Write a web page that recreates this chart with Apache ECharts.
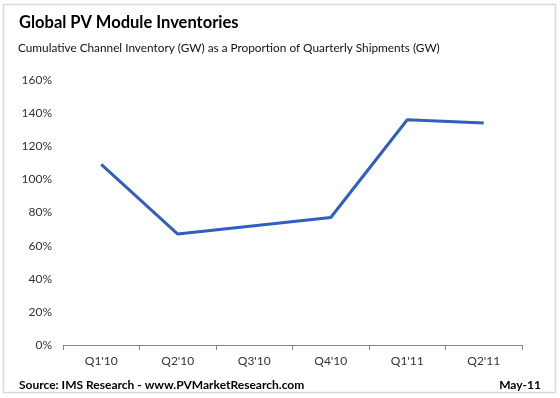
<!DOCTYPE html>
<html>
<head>
<meta charset="utf-8">
<script src="https://cdn.jsdelivr.net/npm/echarts@6/dist/echarts.min.js"></script>
<style>
  html, body { margin: 0; padding: 0; background: #fff; }
  #main { width: 560px; height: 398px; }
</style>
</head>
<body>
<div id="main"></div>
<script>
// quarters on the x axis
var quarters = ["Q1'10", "Q2'10", "Q3'10", "Q4'10", "Q1'11", "Q2'11"];
// channel inventory as % of quarterly shipments
var inventoryPct = [109, 67, 72, 77, 136, 134];

var font = "Lato, 'Open Sans', sans-serif";

var chart = echarts.init(document.getElementById("main"));
chart.setOption({
  animation: false,
  textStyle: { fontFamily: font },
  graphic: [
    {
      type: "rect",
      shape: { x: 3.5, y: 4.5, width: 552, height: 388 },
      style: { fill: "none", stroke: "#d3dae2", lineWidth: 1.5 },
      silent: true
    }
  ],
  title: [
    {
      text: "Global PV Module Inventories",
      left: 14, top: 9,
      textStyle: { fontFamily: font, fontSize: 16.5, fontWeight: "bold", color: "#000" }
    },
    {
      text: "Cumulative Channel Inventory (GW) as a Proportion of Quarterly Shipments (GW)",
      left: 13, top: 37,
      textStyle: { fontFamily: font, fontSize: 11.8, fontWeight: "normal", color: "#111" }
    },
    {
      text: "Source: IMS Research - www.PVMarketResearch.com",
      left: 14, top: 374,
      textStyle: { fontFamily: font, fontSize: 12, fontWeight: "bold", color: "#000" }
    },
    {
      text: "May-11",
      right: 14, top: 374,
      textStyle: { fontFamily: font, fontSize: 12, fontWeight: "bold", color: "#000" }
    }
  ],
  grid: { left: 63, right: 38, top: 80, bottom: 53 },
  xAxis: {
    type: "category",
    data: quarters,
    boundaryGap: true,
    axisLine: { lineStyle: { color: "#868686", width: 1 } },
    axisTick: { show: true, length: 5, lineStyle: { color: "#868686" } },
    axisLabel: { color: "#333", fontSize: 12, fontFamily: font, margin: 10 }
  },
  yAxis: {
    type: "value",
    min: 0, max: 160, interval: 20,
    axisLine: { show: false },
    axisTick: { show: false },
    splitLine: { show: false },
    axisLabel: { color: "#333", fontSize: 12, fontFamily: font, margin: 11, formatter: "{value}%" }
  },
  series: [
    {
      type: "line",
      data: inventoryPct,
      symbol: "none",
      lineStyle: { color: "#2f5fbf", width: 3 }
    }
  ]
});
</script>
</body>
</html>
